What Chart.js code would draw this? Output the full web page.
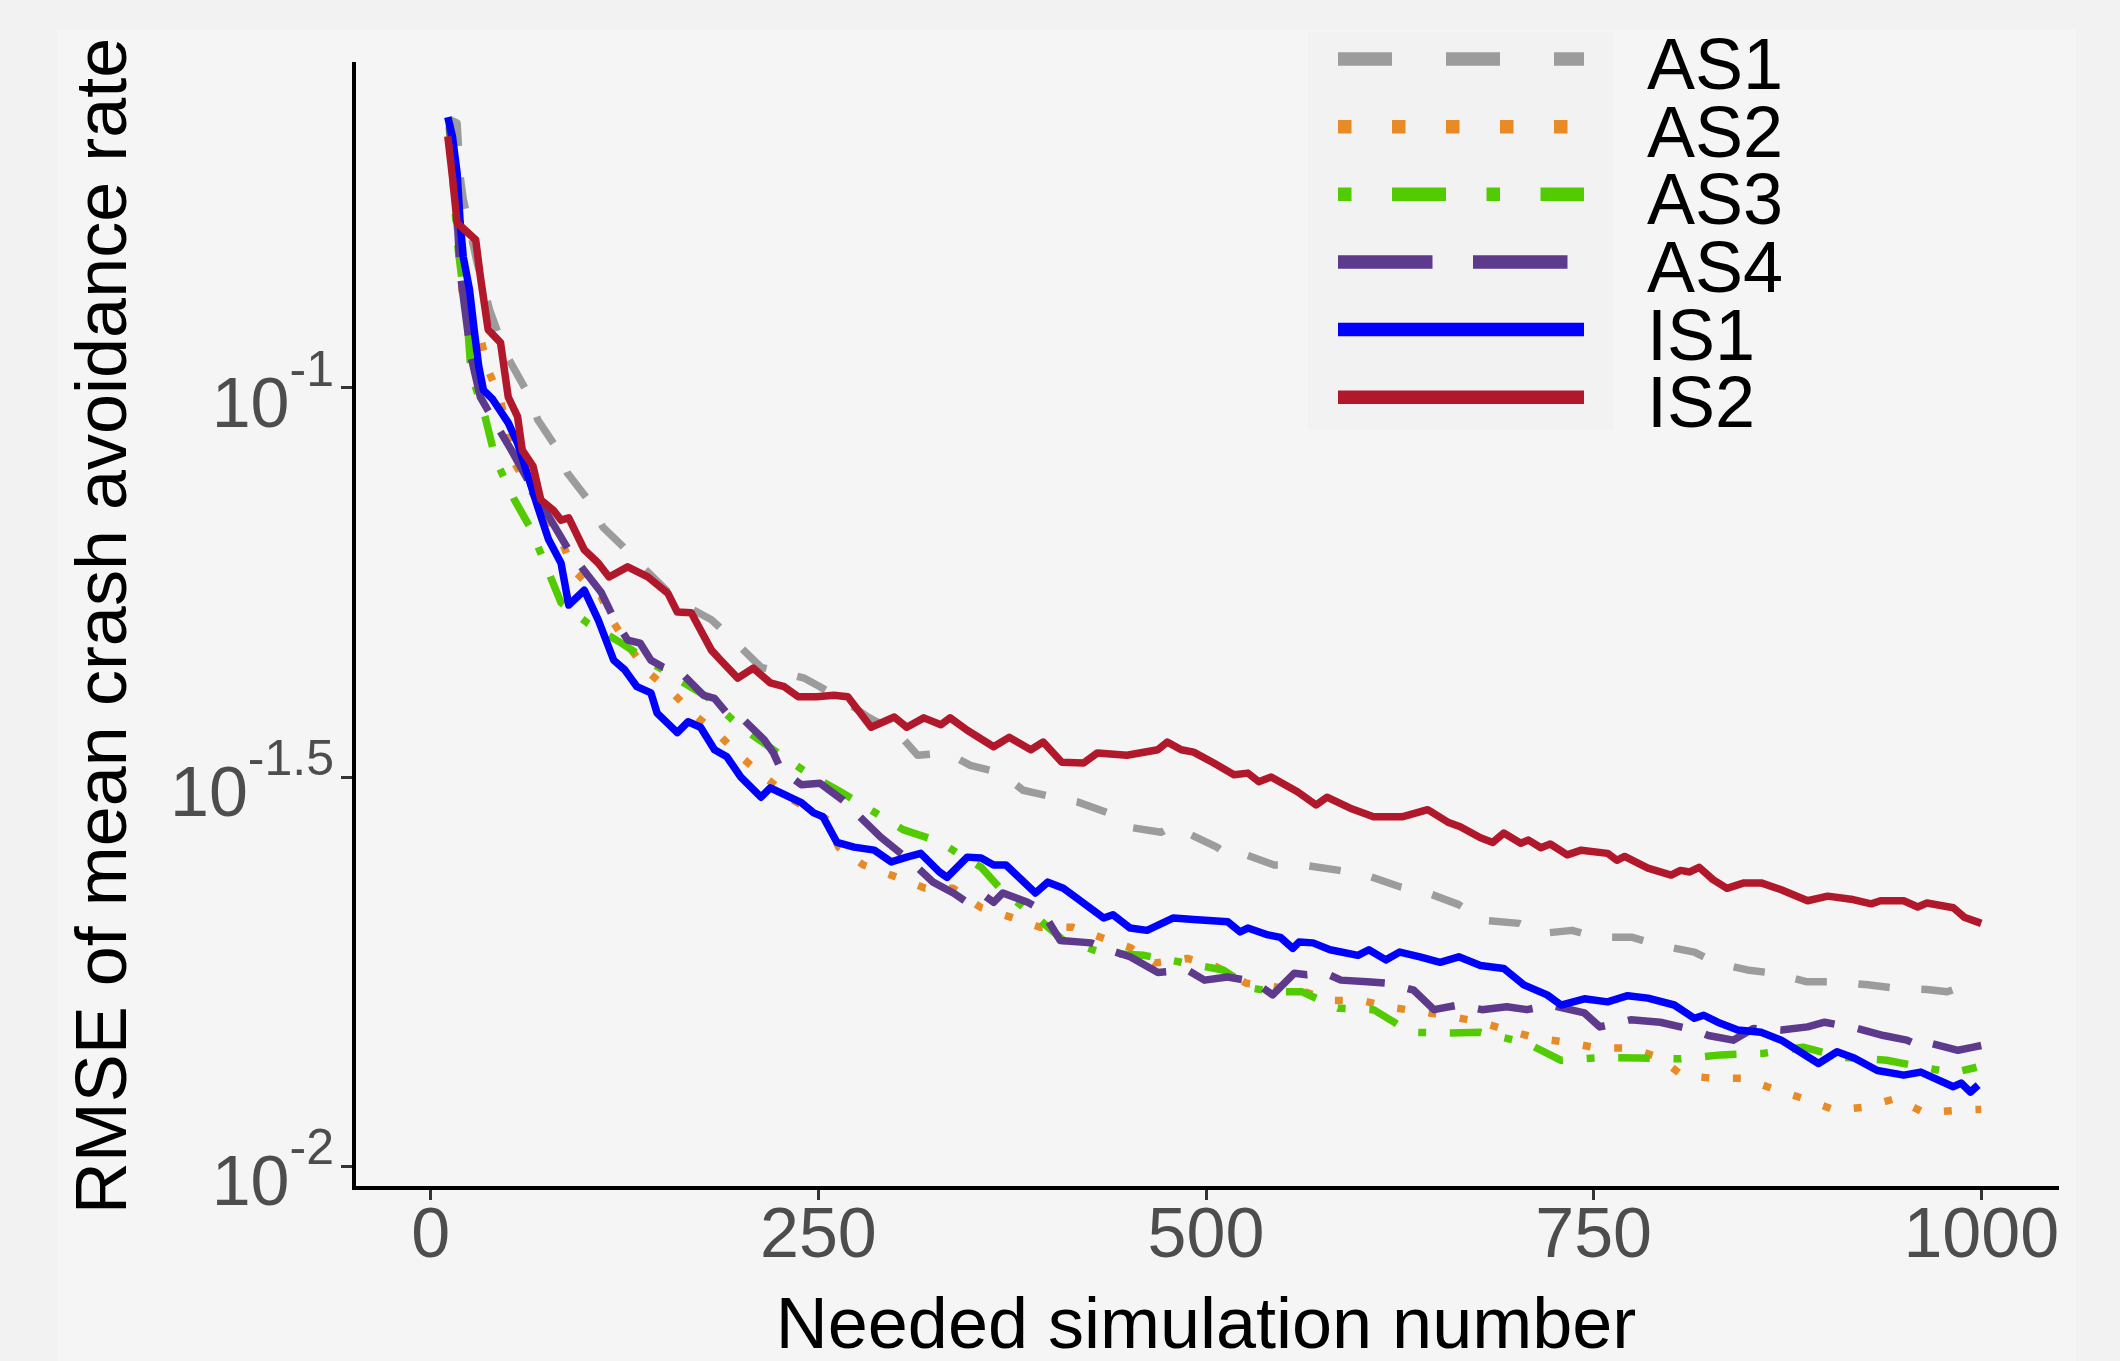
<!DOCTYPE html>
<html>
<head>
<meta charset="utf-8">
<script src="https://cdn.jsdelivr.net/npm/chart.js@4.4.1/dist/chart.umd.min.js"></script>
<style>
  html, body { margin: 0; padding: 0; background: #f2f2f2; }
  canvas { display: block; }
</style>
</head>
<body>
<canvas id="chart" width="2120" height="1361"></canvas>
<script>
const FONT = "'Liberation Sans', Arial, sans-serif";

const seriesNames = ['AS1', 'AS2', 'AS3', 'AS4', 'IS1', 'IS2'];
const seriesColors = ['#9c9c9c', '#e88a26', '#52cc00', '#5e3a8c', '#0000ff', '#b2182b'];
// dash patterns in line-width units (ggplot style: dashed, dotted, dotdash, longdash, solid, solid)
const seriesDash = [[4, 4], [1, 3], [1, 3, 4, 3], [7, 3], [], []];

const xTicks = [0, 250, 500, 750, 1000];
const yTicks = [0.01, 0.031623, 0.1];
const yTickExponents = ['-2', '-1.5', '-1'];

const as1X = [12,17,19,21,30,38,48,64,69,82,88,103,111,124,134,159,181,193,213,241,251,269,282,301,314,333,348,368,382,402,417,437,449,471,479,487,507,516,523,544,562,586,603,625,643,663,679,702,717,736,753,775,792,815,829,849,866,887,906,927,944,965,978,985,1000];
const as1Y = [0.2213,0.2188,0.1866,0.1746,0.1445,0.1259,0.1109,0.09727,0.09099,0.08318,0.07780,0.07112,0.06622,0.06252,0.05957,0.05321,0.05035,0.04786,0.04375,0.04236,0.04131,0.03936,0.03776,0.03606,0.03373,0.03396,0.03273,0.03199,0.03041,0.02979,0.02938,0.02844,0.02729,0.02685,0.02742,0.02685,0.02570,0.02495,0.02523,0.02438,0.02438,0.02399,0.02366,0.02286,0.02244,0.02168,0.02070,0.02051,0.01991,0.02009,0.01968,0.01968,0.01923,0.01884,0.01824,0.01787,0.01770,0.01726,0.01726,0.01710,0.01694,0.01687,0.01675,0.01694,0.01687];

const as2X = [12,17,21,32,37,45,53,70,84,92,110,118,128,140,156,170,186,200,218,234,256,263,279,301,319,337,355,374,393,414,432,451,467,488,507,526,561,580,600,619,640,659,677,694,714,734,752,773,792,807,827,847,865,885,906,925,945,963,985,1000];
const as2Y = [0.2163,0.1622,0.1271,0.1164,0.1054,0.09661,0.08072,0.07080,0.06383,0.05835,0.05383,0.04989,0.04645,0.04315,0.04055,0.03802,0.03581,0.03357,0.03133,0.02951,0.02786,0.02570,0.02438,0.02350,0.02275,0.02275,0.02148,0.02089,0.02028,0.02028,0.01968,0.01910,0.01824,0.01849,0.01803,0.01718,0.01683,0.01633,0.01633,0.01600,0.01578,0.01556,0.01531,0.01496,0.01459,0.01442,0.01419,0.01419,0.01380,0.01309,0.01297,0.01297,0.01259,0.01222,0.01180,0.01191,0.01222,0.01172,0.01180,0.01183];

const as3X = [12,17,24,26,35,42,54,64,75,84,101,123,142,179,200,221,243,266,286,305,328,344,355,368,393,408,434,460,484,511,529,544,562,585,608,632,656,677,707,729,756,780,806,832,859,885,911,939,965,982,997];
const as3Y = [0.2163,0.1549,0.1188,0.1045,0.09183,0.08072,0.07178,0.06622,0.05862,0.05297,0.04989,0.04699,0.04436,0.03999,0.03664,0.03428,0.03199,0.03013,0.02851,0.02704,0.02612,0.02495,0.02421,0.02265,0.02070,0.01950,0.01879,0.01866,0.01828,0.01787,0.01694,0.01675,0.01675,0.01596,0.01589,0.01486,0.01483,0.01486,0.01439,0.01368,0.01380,0.01377,0.01374,0.01390,0.01396,0.01422,0.01380,0.01368,0.01337,0.01318,0.01340];

const as4X = [12,17,19,26,32,43,52,70,90,110,118,127,135,142,150,161,176,183,193,200,215,221,226,239,251,266,290,310,324,337,346,357,363,369,385,394,406,426,437,451,469,488,499,514,531,543,557,565,577,587,604,617,634,647,663,678,694,707,722,744,754,774,793,815,824,840,853,871,888,899,920,937,952,962,967,985,995,1000];
const as4Y = [0.2188,0.1660,0.1406,0.1096,0.09727,0.08913,0.08318,0.07161,0.06138,0.05458,0.05058,0.04742,0.04699,0.04467,0.04375,0.04315,0.04027,0.03990,0.03776,0.03776,0.03532,0.03396,0.03228,0.03090,0.03105,0.02951,0.02649,0.02460,0.02317,0.02244,0.02183,0.02228,0.02183,0.02244,0.02183,0.02133,0.01950,0.01936,0.01897,0.01858,0.01774,0.01787,0.01734,0.01750,0.01726,0.01660,0.01770,0.01762,0.01770,0.01734,0.01726,0.01718,0.01683,0.01589,0.01611,0.01589,0.01603,0.01589,0.01611,0.01574,0.01510,0.01542,0.01531,0.01496,0.01472,0.01452,0.01503,0.01496,0.01510,0.01531,0.01503,0.01472,0.01452,0.01422,0.01439,0.01409,0.01422,0.01429];

const is1X = [11,14,17,19,21,25,28,31,34,40,50,56,62,69,76,84,89,99,108,118,125,133,142,146,159,166,174,183,191,200,213,219,239,247,253,262,273,286,297,307,316,328,333,346,355,363,371,390,398,408,417,434,440,451,462,479,492,514,522,527,540,548,556,560,569,580,598,605,616,625,638,651,663,677,692,705,720,729,744,759,772,785,802,815,821,830,843,858,871,883,895,907,918,933,950,961,982,987,993,998];
const is1Y = [0.2228,0.2104,0.1888,0.1629,0.1472,0.1337,0.1188,0.1064,0.09931,0.09661,0.09016,0.08492,0.07780,0.07031,0.06383,0.05957,0.05260,0.05495,0.05035,0.04467,0.04345,0.04131,0.04055,0.03820,0.03606,0.03724,0.03664,0.03428,0.03357,0.03162,0.02979,0.03062,0.02931,0.02844,0.02812,0.02606,0.02570,0.02547,0.02460,0.02495,0.02523,0.02388,0.02350,0.02495,0.02489,0.02438,0.02438,0.02244,0.02317,0.02275,0.02208,0.02084,0.02104,0.02023,0.02009,0.02084,0.02075,0.02061,0.02000,0.02023,0.01982,0.01968,0.01905,0.01941,0.01936,0.01897,0.01866,0.01897,0.01841,0.01884,0.01858,0.01828,0.01858,0.01811,0.01795,0.01710,0.01660,0.01611,0.01641,0.01626,0.01656,0.01644,0.01611,0.01549,0.01563,0.01531,0.01496,0.01486,0.01452,0.01403,0.01355,0.01403,0.01377,0.01327,0.01309,0.01321,0.01265,0.01279,0.01245,0.01271];

const is2X = [11,14,17,29,32,37,45,50,56,59,66,71,79,84,89,99,108,115,127,140,153,159,168,181,187,198,208,219,228,237,249,260,269,284,299,307,318,329,335,346,363,373,387,395,407,421,430,449,469,475,484,492,505,518,527,534,542,559,571,578,593,608,627,643,656,664,677,685,692,703,708,716,722,733,742,759,765,770,785,800,806,812,818,827,836,847,858,871,888,901,916,929,935,950,959,965,982,989,1000];
const is2Y = [0.2104,0.1866,0.1629,0.1549,0.1390,0.1188,0.1143,0.09727,0.09183,0.08318,0.07925,0.07178,0.06966,0.06761,0.06808,0.06194,0.05957,0.05715,0.05888,0.05715,0.05445,0.05152,0.05140,0.04603,0.04467,0.04236,0.04365,0.04178,0.04131,0.04009,0.04009,0.04027,0.04009,0.03664,0.03776,0.03664,0.03767,0.03690,0.03767,0.03631,0.03459,0.03556,0.03428,0.03507,0.03304,0.03296,0.03396,0.03373,0.03428,0.03507,0.03428,0.03404,0.03296,0.03184,0.03199,0.03119,0.03162,0.03027,0.02911,0.02979,0.02884,0.02812,0.02812,0.02871,0.02767,0.02729,0.02642,0.02606,0.02679,0.02600,0.02624,0.02565,0.02594,0.02512,0.02547,0.02523,0.02472,0.02500,0.02415,0.02366,0.02399,0.02388,0.02421,0.02334,0.02275,0.02312,0.02312,0.02265,0.02193,0.02223,0.02203,0.02173,0.02193,0.02193,0.02153,0.02178,0.02148,0.02089,0.02051];

const seriesX = [as1X, as2X, as3X, as4X, is1X, is2X];
const seriesY = [as1Y, as2Y, as3Y, as4Y, is1Y, is2Y];

const LINE_W = 7.5;
const DASH_UNIT = 7.9;

// page + panel background
const backgroundPlugin = {
  id: 'background',
  beforeDraw(chart) {
    const ctx = chart.ctx;
    ctx.save();
    ctx.fillStyle = '#f2f2f2';
    ctx.fillRect(0, 0, chart.width, chart.height);
    ctx.fillStyle = '#f5f5f5';
    ctx.fillRect(57, 30, 2019, chart.height - 30);
    ctx.restore();
  }
};

// y tick labels as 10 with a raised exponent
const powerLabelsPlugin = {
  id: 'powerLabels',
  afterDraw(chart) {
    const ctx = chart.ctx;
    const y = chart.scales.y;
    const right = chart.chartArea.left - 20;
    ctx.save();
    ctx.fillStyle = '#4d4d4d';
    ctx.textAlign = 'left';
    ctx.textBaseline = 'alphabetic';
    yTicks.forEach(function(v, i) {
      const py = y.getPixelForValue(v);
      ctx.font = '70px ' + FONT;
      const wBase = ctx.measureText('10').width;
      ctx.font = '50px ' + FONT;
      const wExp = ctx.measureText(yTickExponents[i]).width;
      const x0 = right - wExp - wBase;
      ctx.font = '70px ' + FONT;
      ctx.fillText('10', x0, py + 39);
      ctx.font = '50px ' + FONT;
      ctx.fillText(yTickExponents[i], x0 + wBase, py - 2);
    });
    ctx.restore();
  }
};

// legend in the top right, keys on a darker box
const keyLegendPlugin = {
  id: 'keyLegend',
  afterDraw(chart) {
    const ctx = chart.ctx;
    const keyW = 13.5;
    ctx.save();
    ctx.fillStyle = '#f2f2f2';
    ctx.fillRect(1308, 32, 305, 398);
    chart.data.datasets.forEach(function(ds, i) {
      const ry = 59 + i * 67.65;
      ctx.beginPath();
      ctx.strokeStyle = ds.borderColor;
      ctx.lineWidth = keyW;
      ctx.lineCap = 'butt';
      ctx.setLineDash(seriesDash[i].map(function(d) { return d * keyW; }));
      ctx.moveTo(1338, ry);
      ctx.lineTo(1584, ry);
      ctx.stroke();
      ctx.setLineDash([]);
      ctx.fillStyle = '#000000';
      ctx.font = '72px ' + FONT;
      ctx.textAlign = 'left';
      ctx.textBaseline = 'alphabetic';
      ctx.fillText(ds.label, 1647, ry + 30);
    });
    ctx.restore();
  }
};

const datasets = seriesNames.map(function(name, i) {
  return {
    label: name,
    data: seriesX[i].map(function(x, j) { return { x: x, y: seriesY[i][j] }; }),
    borderColor: seriesColors[i],
    backgroundColor: seriesColors[i],
    borderWidth: LINE_W,
    borderDash: seriesDash[i].map(function(d) { return d * DASH_UNIT; }),
    borderCapStyle: 'butt',
    borderJoinStyle: 'round',
    pointRadius: 0,
    tension: 0,
    fill: false,
    order: seriesNames.length - 1 - i
  };
});

new Chart(document.getElementById('chart'), {
  type: 'line',
  data: { datasets: datasets },
  options: {
    responsive: false,
    animation: false,
    devicePixelRatio: 1,
    layout: { padding: { left: 0, right: 62, top: 64, bottom: 0 } },
    plugins: {
      legend: { display: false },
      tooltip: { enabled: false }
    },
    scales: {
      x: {
        type: 'linear',
        min: -49.5,
        max: 1049.5,
        afterBuildTicks: function(scale) {
          scale.ticks = xTicks.map(function(v) { return { value: v }; });
        },
        afterFit: function(scale) { scale.height = 173; },
        grid: { drawOnChartArea: false, drawTicks: true, tickLength: 12, tickColor: '#333333', tickWidth: 3 },
        border: { display: true, color: '#000000', width: 4 },
        ticks: {
          color: '#4d4d4d',
          font: { family: FONT, size: 70, lineHeight: 1 },
          padding: 3,
          maxRotation: 0,
          autoSkip: false,
          callback: function(value) { return String(value); }
        },
        title: {
          display: true,
          text: 'Needed simulation number',
          color: '#000000',
          font: { family: FONT, size: 72, lineHeight: 0.92 },
          padding: { top: 0, bottom: 0 }
        }
      },
      y: {
        type: 'logarithmic',
        min: 0.0093756,
        max: 0.26062,
        afterBuildTicks: function(scale) {
          scale.ticks = yTicks.map(function(v) { return { value: v }; });
        },
        afterFit: function(scale) { scale.width = 354; },
        grid: { drawOnChartArea: false, drawTicks: true, tickLength: 13, tickColor: '#333333', tickWidth: 3 },
        border: { display: true, color: '#000000', width: 4 },
        ticks: { display: false },
        title: {
          display: true,
          text: 'RMSE of mean crash avoidance rate',
          color: '#000000',
          font: { family: FONT, size: 72, lineHeight: 1 },
          padding: { top: 70, bottom: 0 }
        }
      }
    }
  },
  plugins: [backgroundPlugin, powerLabelsPlugin, keyLegendPlugin]
});
</script>
</body>
</html>
